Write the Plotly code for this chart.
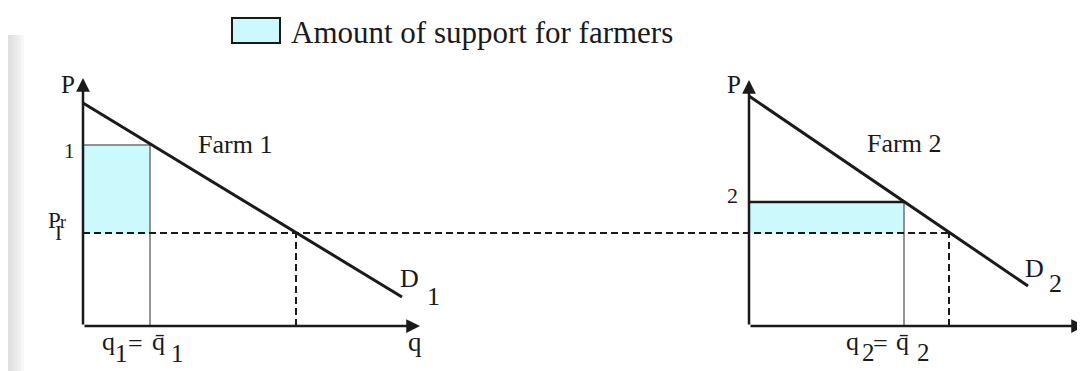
import plotly.graph_objects as go

# ---------------- data (price / quantity units of the sketch)

# farm 1 : demand curve end points
q_demand1 = [0, 31.9]
p_demand1 = [22.3, 2.9]
# farm 2 : demand curve end points
q_demand2 = [0, 27.9]
p_demand2 = [23.0, 4.0]

farms = ["Farm 1", "Farm 2"]
p_support = [18.1, 12.4]      # supported price of each farm (1, 2)
q_support = [6.7, 15.5]       # quota q = q-bar
p_world = 9.3                 # P_r
q_world = [21.3, 20.0]        # quantity demanded at P_r

axis_top = [24.8, 24.6]       # height of the P axes
axis_end = [33.7, 33.6]       # length of the q axes

# ---------------- layout helpers
# the page puts the plot 8px in from the corner, so size it to the rest
W, H = 1077, 363
OFF = 8
gap = 66.6                    # left origin expressed on the right-hand axis
serif = "Liberation Serif"
ink = "#1a1a1a"
cyan = "#ccfafc"


def fx(px):
    return (px - OFF) / W


def fy(py):
    return 1 - (py - OFF) / H


fig = go.Figure()

axes = [("x", "y"), ("x2", "y")]

for i in range(2):
    xa, ya = axes[i]
    q_d = q_demand1 if i == 0 else q_demand2
    p_d = p_demand1 if i == 0 else p_demand2

    # support area
    fig.add_trace(go.Scatter(
        x=[0, q_support[i], q_support[i], 0, 0],
        y=[p_world, p_world, p_support[i], p_support[i], p_world],
        fill="toself", fillcolor=cyan, mode="lines",
        line=dict(width=0), xaxis=xa, yaxis=ya, hoverinfo="skip"
    ))

    # quota line and support price line
    fig.add_trace(go.Scatter(
        x=[q_support[i], q_support[i]], y=[0, p_support[i]],
        mode="lines", line=dict(color="#707070", width=1.5),
        xaxis=xa, yaxis=ya, hoverinfo="skip"
    ))
    fig.add_trace(go.Scatter(
        x=[0, q_support[i]], y=[p_support[i], p_support[i]],
        mode="lines",
        line=dict(color="#707070" if i == 0 else ink, width=1.5 if i == 0 else 2.5),
        xaxis=xa, yaxis=ya, hoverinfo="skip"
    ))

    # dashed drop line at P_r
    fig.add_trace(go.Scatter(
        x=[q_world[i], q_world[i]], y=[0, p_world],
        mode="lines", line=dict(color=ink, width=2, dash="7px,4px"),
        xaxis=xa, yaxis=ya, hoverinfo="skip"
    ))

    # demand
    fig.add_trace(go.Scatter(
        x=q_d, y=p_d, mode="lines", line=dict(color=ink, width=3),
        xaxis=xa, yaxis=ya, hoverinfo="skip"
    ))

    # axes with arrows
    for tip, base in [((0, axis_top[i]), (0, 0)), ((axis_end[i], 0), (0, 0))]:
        fig.add_annotation(
            x=tip[0], y=tip[1], ax=base[0], ay=base[1],
            xref=xa, yref=ya, axref=xa, ayref=ya,
            text="", showarrow=True, arrowhead=2, arrowsize=1.1,
            arrowwidth=2.5, arrowcolor=ink, standoff=0
        )

# world price line running across both diagrams
fig.add_trace(go.Scatter(
    x=[-gap, q_world[1]], y=[p_world, p_world],
    mode="lines", line=dict(color=ink, width=2, dash="7px,4px"),
    xaxis="x2", yaxis="y", hoverinfo="skip"
))


def label(text, px, py, size=26, xanchor="center"):
    fig.add_annotation(
        x=fx(px), y=fy(py), xref="paper", yref="paper", text=text,
        showarrow=False, font=dict(family=serif, size=size, color=ink),
        xanchor=xanchor, yanchor="middle"
    )


# farm 1
label("P", 68, 84, 25)
label("1", 69, 151, 21)
label("P", 54, 220, 23)
label("r", 63, 222, 18)
label("I", 58, 233, 21)
label(farms[0], 235, 144)
label("D", 409, 278)
label("1", 433, 296)
label("q", 108, 341)
label("1", 121, 353, 25)
label("=", 135, 343)
label("q\u0304", 158, 341)
label("1", 177, 353, 25)
label("q", 415, 342, 27)

# farm 2
label("P", 734, 84, 25)
label("2", 732, 195, 22)
label(farms[1], 904, 143)
label("D", 1034, 268)
label("2", 1055, 283)
label("q", 852, 341)
label("2", 868, 352, 25)
label("=", 880, 343)
label("q\u0304", 902, 341)
label("2", 923, 352, 25)
label("q", 1075, 340, 27, xanchor="left")

# legend box
fig.add_shape(type="rect", xref="paper", yref="paper",
              x0=fx(232), x1=fx(280), y0=fy(43), y1=fy(18),
              fillcolor=cyan, line=dict(color=ink, width=2))
fig.add_annotation(x=fx(289), y=fy(32), xref="paper", yref="paper",
                   text="Amount of support for farmers", showarrow=False,
                   font=dict(family=serif, size=31, color=ink),
                   xanchor="left", yanchor="middle")

# soft grey edge on the left
for k in range(5):
    fig.add_shape(type="rect", xref="paper", yref="paper", layer="below",
                  x0=0, x1=fx(12 + 3 * k), y0=0, y1=fy(35),
                  fillcolor="#b8b8b8", opacity=0.1, line=dict(width=0))

fig.update_layout(
    width=W, height=H,
    margin=dict(l=0, r=0, t=0, b=0),
    paper_bgcolor="white", plot_bgcolor="rgba(0,0,0,0)",
    showlegend=False,
    xaxis=dict(domain=[0, 1], range=[-7.5, 100.2], visible=False),
    xaxis2=dict(domain=[0, 1], range=[-74.1, 33.6], visible=False,
                overlaying="x"),
    yaxis=dict(range=[-4.5, 31.8], visible=False),
)

fig.write_html("out.html")
